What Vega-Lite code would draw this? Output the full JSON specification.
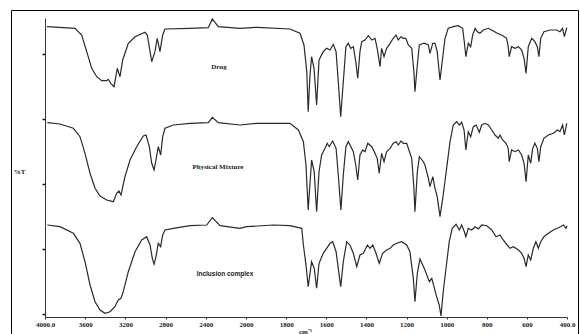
{
  "$schema": "https://vega.github.io/schema/vega-lite/v6.json",
  "width": 567,
  "height": 324,
  "autosize": {"type": "none"},
  "padding": {"left": 11, "top": 10, "right": 2, "bottom": 0},
  "background": "white",
  "config": {
    "view": {"stroke": "black", "strokeWidth": 1, "strokeDash": [891, 567, 324, 0]},
    "axis": {"grid": false, "domainColor": "#333", "tickColor": "#333", "labelFont": "Liberation Serif", "labelFontWeight": "bold", "labelFontSize": 7, "labelColor": "#222", "titleFont": "Liberation Serif", "titleFontWeight": "bold", "titleFontSize": 7, "titleColor": "#222"}
  },
  "layer": [
    {
      "data": {"values": [
        {"s":"Drug","w":3980,"t":290.3},{"s":"Drug","w":3701,"t":288.7},{"s":"Drug","w":3635,"t":282},{"s":"Drug","w":3585,"t":265.3},{"s":"Drug","w":3535,"t":248.7},{"s":"Drug","w":3486,"t":240.3},{"s":"Drug","w":3436,"t":236.3},{"s":"Drug","w":3386,"t":236.3},{"s":"Drug","w":3370,"t":237.7},{"s":"Drug","w":3346,"t":233.7},{"s":"Drug","w":3313,"t":230.3},{"s":"Drug","w":3281,"t":248.7},{"s":"Drug","w":3254,"t":240.3},{"s":"Drug","w":3227,"t":257},{"s":"Drug","w":3171,"t":273.7},{"s":"Drug","w":3104,"t":280.3},{"s":"Drug","w":3005,"t":284.7},{"s":"Drug","w":2982,"t":282},{"s":"Drug","w":2938,"t":255.3},{"s":"Drug","w":2906,"t":265.3},{"s":"Drug","w":2883,"t":278.7},{"s":"Drug","w":2856,"t":265.3},{"s":"Drug","w":2829,"t":282},{"s":"Drug","w":2806,"t":288},{"s":"Drug","w":2557,"t":288.7},{"s":"Drug","w":2375,"t":289.3},{"s":"Drug","w":2335,"t":298},{"s":"Drug","w":2276,"t":290.3},{"s":"Drug","w":2060,"t":288.7},{"s":"Drug","w":1947,"t":289.7},{"s":"Drug","w":1781,"t":288},{"s":"Drug","w":1731,"t":283.7},{"s":"Drug","w":1711,"t":272},{"s":"Drug","w":1697,"t":245.3},{"s":"Drug","w":1690,"t":205.3},{"s":"Drug","w":1681,"t":242},{"s":"Drug","w":1673,"t":260.3},{"s":"Drug","w":1661,"t":248.7},{"s":"Drug","w":1648,"t":212},{"s":"Drug","w":1636,"t":257},{"s":"Drug","w":1615,"t":265.3},{"s":"Drug","w":1598,"t":268.7},{"s":"Drug","w":1581,"t":267},{"s":"Drug","w":1565,"t":272.7},{"s":"Drug","w":1551,"t":265.3},{"s":"Drug","w":1540,"t":235.3},{"s":"Drug","w":1528,"t":200.3},{"s":"Drug","w":1515,"t":235.3},{"s":"Drug","w":1502,"t":270.3},{"s":"Drug","w":1490,"t":273.7},{"s":"Drug","w":1478,"t":268.7},{"s":"Drug","w":1465,"t":270.3},{"s":"Drug","w":1453,"t":255.3},{"s":"Drug","w":1443,"t":238.7},{"s":"Drug","w":1432,"t":265.3},{"s":"Drug","w":1423,"t":275.3},{"s":"Drug","w":1407,"t":277},{"s":"Drug","w":1390,"t":281.3},{"s":"Drug","w":1373,"t":277},{"s":"Drug","w":1357,"t":278.7},{"s":"Drug","w":1346,"t":268.7},{"s":"Drug","w":1332,"t":250.3},{"s":"Drug","w":1324,"t":268.7},{"s":"Drug","w":1312,"t":260.3},{"s":"Drug","w":1299,"t":268.7},{"s":"Drug","w":1282,"t":273.7},{"s":"Drug","w":1266,"t":278.7},{"s":"Drug","w":1252,"t":282},{"s":"Drug","w":1241,"t":277},{"s":"Drug","w":1227,"t":280.3},{"s":"Drug","w":1216,"t":278.7},{"s":"Drug","w":1203,"t":278.7},{"s":"Drug","w":1191,"t":272},{"s":"Drug","w":1174,"t":268.7},{"s":"Drug","w":1163,"t":245.3},{"s":"Drug","w":1158,"t":225.3},{"s":"Drug","w":1146,"t":252},{"s":"Drug","w":1136,"t":272},{"s":"Drug","w":1116,"t":273.7},{"s":"Drug","w":1108,"t":273.7},{"s":"Drug","w":1091,"t":272},{"s":"Drug","w":1083,"t":263.7},{"s":"Drug","w":1069,"t":273.7},{"s":"Drug","w":1058,"t":273.7},{"s":"Drug","w":1047,"t":265.3},{"s":"Drug","w":1033,"t":237},{"s":"Drug","w":1020,"t":258.7},{"s":"Drug","w":1008,"t":278.7},{"s":"Drug","w":992,"t":288.7},{"s":"Drug","w":967,"t":290.3},{"s":"Drug","w":942,"t":291.3},{"s":"Drug","w":920,"t":288.7},{"s":"Drug","w":912,"t":275.3},{"s":"Drug","w":904,"t":260.3},{"s":"Drug","w":892,"t":273.7},{"s":"Drug","w":880,"t":270.3},{"s":"Drug","w":870,"t":282},{"s":"Drug","w":858,"t":288.7},{"s":"Drug","w":847,"t":285.3},{"s":"Drug","w":834,"t":283.7},{"s":"Drug","w":817,"t":287},{"s":"Drug","w":792,"t":288.7},{"s":"Drug","w":767,"t":286},{"s":"Drug","w":748,"t":283.7},{"s":"Drug","w":726,"t":282},{"s":"Drug","w":701,"t":278.7},{"s":"Drug","w":693,"t":270.3},{"s":"Drug","w":688,"t":260.3},{"s":"Drug","w":676,"t":270.3},{"s":"Drug","w":659,"t":268.7},{"s":"Drug","w":642,"t":270.3},{"s":"Drug","w":626,"t":267},{"s":"Drug","w":614,"t":258.7},{"s":"Drug","w":604,"t":243.7},{"s":"Drug","w":593,"t":270.3},{"s":"Drug","w":576,"t":278.7},{"s":"Drug","w":560,"t":275.3},{"s":"Drug","w":548,"t":270.3},{"s":"Drug","w":540,"t":260.3},{"s":"Drug","w":531,"t":278.7},{"s":"Drug","w":515,"t":285.3},{"s":"Drug","w":485,"t":287},{"s":"Drug","w":452,"t":287},{"s":"Drug","w":435,"t":285.3},{"s":"Drug","w":422,"t":288.7},{"s":"Drug","w":413,"t":280.3},{"s":"Drug","w":401,"t":289.3},
        {"s":"PM","w":3977,"t":194.3},{"s":"PM","w":3851,"t":193},{"s":"PM","w":3718,"t":188.7},{"s":"PM","w":3652,"t":180.3},{"s":"PM","w":3602,"t":163.7},{"s":"PM","w":3552,"t":143.7},{"s":"PM","w":3502,"t":128.7},{"s":"PM","w":3453,"t":121},{"s":"PM","w":3386,"t":117},{"s":"PM","w":3320,"t":115.3},{"s":"PM","w":3287,"t":123.7},{"s":"PM","w":3264,"t":126},{"s":"PM","w":3244,"t":122},{"s":"PM","w":3204,"t":140.3},{"s":"PM","w":3154,"t":157},{"s":"PM","w":3088,"t":170.3},{"s":"PM","w":3022,"t":181},{"s":"PM","w":2995,"t":182},{"s":"PM","w":2962,"t":170.3},{"s":"PM","w":2938,"t":153.7},{"s":"PM","w":2915,"t":147},{"s":"PM","w":2896,"t":157},{"s":"PM","w":2873,"t":170.3},{"s":"PM","w":2849,"t":162},{"s":"PM","w":2829,"t":180.3},{"s":"PM","w":2806,"t":188.7},{"s":"PM","w":2723,"t":192},{"s":"PM","w":2557,"t":193.7},{"s":"PM","w":2375,"t":194.3},{"s":"PM","w":2335,"t":199.7},{"s":"PM","w":2276,"t":194.3},{"s":"PM","w":2060,"t":192},{"s":"PM","w":1947,"t":193.7},{"s":"PM","w":1781,"t":193.7},{"s":"PM","w":1739,"t":187},{"s":"PM","w":1714,"t":175.3},{"s":"PM","w":1701,"t":152},{"s":"PM","w":1690,"t":107},{"s":"PM","w":1673,"t":157},{"s":"PM","w":1660,"t":145.3},{"s":"PM","w":1648,"t":105.3},{"s":"PM","w":1636,"t":145.3},{"s":"PM","w":1623,"t":162},{"s":"PM","w":1606,"t":168.7},{"s":"PM","w":1595,"t":173.7},{"s":"PM","w":1585,"t":170.3},{"s":"PM","w":1568,"t":176},{"s":"PM","w":1551,"t":168.7},{"s":"PM","w":1540,"t":142},{"s":"PM","w":1527,"t":107},{"s":"PM","w":1515,"t":142},{"s":"PM","w":1502,"t":170.3},{"s":"PM","w":1490,"t":175.3},{"s":"PM","w":1477,"t":170.3},{"s":"PM","w":1465,"t":165.3},{"s":"PM","w":1453,"t":152},{"s":"PM","w":1443,"t":137},{"s":"PM","w":1432,"t":162},{"s":"PM","w":1418,"t":167},{"s":"PM","w":1407,"t":165.3},{"s":"PM","w":1393,"t":173.7},{"s":"PM","w":1373,"t":170.3},{"s":"PM","w":1357,"t":163.7},{"s":"PM","w":1346,"t":158.7},{"s":"PM","w":1336,"t":143.7},{"s":"PM","w":1324,"t":163.7},{"s":"PM","w":1312,"t":155.3},{"s":"PM","w":1299,"t":165.3},{"s":"PM","w":1282,"t":168.7},{"s":"PM","w":1266,"t":173.7},{"s":"PM","w":1252,"t":175.3},{"s":"PM","w":1241,"t":172},{"s":"PM","w":1227,"t":176},{"s":"PM","w":1216,"t":173.7},{"s":"PM","w":1199,"t":173.7},{"s":"PM","w":1188,"t":167},{"s":"PM","w":1174,"t":158.7},{"s":"PM","w":1163,"t":128.7},{"s":"PM","w":1158,"t":105.3},{"s":"PM","w":1146,"t":145.3},{"s":"PM","w":1136,"t":160.3},{"s":"PM","w":1116,"t":155.3},{"s":"PM","w":1108,"t":152},{"s":"PM","w":1091,"t":138.7},{"s":"PM","w":1083,"t":130.3},{"s":"PM","w":1069,"t":140.3},{"s":"PM","w":1058,"t":128.7},{"s":"PM","w":1047,"t":120.3},{"s":"PM","w":1033,"t":100.3},{"s":"PM","w":1017,"t":122},{"s":"PM","w":1000,"t":148.7},{"s":"PM","w":983,"t":175.3},{"s":"PM","w":967,"t":192},{"s":"PM","w":950,"t":195.3},{"s":"PM","w":937,"t":192},{"s":"PM","w":925,"t":194.7},{"s":"PM","w":913,"t":187},{"s":"PM","w":904,"t":167},{"s":"PM","w":892,"t":185.3},{"s":"PM","w":880,"t":180.3},{"s":"PM","w":867,"t":190.3},{"s":"PM","w":853,"t":192},{"s":"PM","w":837,"t":184.7},{"s":"PM","w":825,"t":192},{"s":"PM","w":809,"t":193.7},{"s":"PM","w":792,"t":192},{"s":"PM","w":775,"t":187},{"s":"PM","w":759,"t":182},{"s":"PM","w":742,"t":178.7},{"s":"PM","w":734,"t":182},{"s":"PM","w":721,"t":177},{"s":"PM","w":704,"t":173.7},{"s":"PM","w":693,"t":168.7},{"s":"PM","w":688,"t":155.3},{"s":"PM","w":676,"t":167},{"s":"PM","w":659,"t":165.3},{"s":"PM","w":642,"t":167},{"s":"PM","w":626,"t":162},{"s":"PM","w":614,"t":153.7},{"s":"PM","w":604,"t":135.3},{"s":"PM","w":593,"t":162},{"s":"PM","w":581,"t":153.7},{"s":"PM","w":571,"t":168.7},{"s":"PM","w":560,"t":173.7},{"s":"PM","w":548,"t":168.7},{"s":"PM","w":540,"t":155.3},{"s":"PM","w":531,"t":170.3},{"s":"PM","w":515,"t":178.7},{"s":"PM","w":493,"t":182},{"s":"PM","w":468,"t":183.7},{"s":"PM","w":448,"t":187},{"s":"PM","w":435,"t":185.3},{"s":"PM","w":422,"t":192},{"s":"PM","w":413,"t":182},{"s":"PM","w":401,"t":193.7},
        {"s":"IC","w":3977,"t":92},{"s":"IC","w":3851,"t":90.3},{"s":"IC","w":3718,"t":83.7},{"s":"IC","w":3652,"t":73.7},{"s":"IC","w":3602,"t":55.3},{"s":"IC","w":3552,"t":32},{"s":"IC","w":3502,"t":15.3},{"s":"IC","w":3453,"t":7},{"s":"IC","w":3403,"t":3.7},{"s":"IC","w":3353,"t":5.3},{"s":"IC","w":3304,"t":10.3},{"s":"IC","w":3271,"t":17},{"s":"IC","w":3244,"t":18.7},{"s":"IC","w":3221,"t":25.3},{"s":"IC","w":3171,"t":45.3},{"s":"IC","w":3104,"t":65.3},{"s":"IC","w":3038,"t":77},{"s":"IC","w":2988,"t":80.3},{"s":"IC","w":2955,"t":72},{"s":"IC","w":2932,"t":58.7},{"s":"IC","w":2915,"t":52.7},{"s":"IC","w":2896,"t":60.3},{"s":"IC","w":2873,"t":73.7},{"s":"IC","w":2849,"t":70.3},{"s":"IC","w":2829,"t":82},{"s":"IC","w":2806,"t":87},{"s":"IC","w":2723,"t":88.7},{"s":"IC","w":2557,"t":91.3},{"s":"IC","w":2391,"t":92},{"s":"IC","w":2335,"t":99.3},{"s":"IC","w":2259,"t":91.3},{"s":"IC","w":2060,"t":88.7},{"s":"IC","w":1997,"t":90.3},{"s":"IC","w":1864,"t":92},{"s":"IC","w":1781,"t":91.3},{"s":"IC","w":1722,"t":88.7},{"s":"IC","w":1714,"t":72},{"s":"IC","w":1701,"t":52},{"s":"IC","w":1690,"t":30.3},{"s":"IC","w":1673,"t":55.3},{"s":"IC","w":1660,"t":48.7},{"s":"IC","w":1648,"t":28.7},{"s":"IC","w":1636,"t":53.7},{"s":"IC","w":1615,"t":63.7},{"s":"IC","w":1598,"t":68.7},{"s":"IC","w":1581,"t":73.7},{"s":"IC","w":1568,"t":75.3},{"s":"IC","w":1551,"t":65.3},{"s":"IC","w":1540,"t":48.7},{"s":"IC","w":1528,"t":30.3},{"s":"IC","w":1515,"t":55.3},{"s":"IC","w":1498,"t":75.3},{"s":"IC","w":1482,"t":72},{"s":"IC","w":1465,"t":63.7},{"s":"IC","w":1448,"t":50.3},{"s":"IC","w":1432,"t":62},{"s":"IC","w":1415,"t":63.7},{"s":"IC","w":1395,"t":72},{"s":"IC","w":1382,"t":68.7},{"s":"IC","w":1368,"t":72},{"s":"IC","w":1352,"t":63.7},{"s":"IC","w":1336,"t":53.7},{"s":"IC","w":1319,"t":63.7},{"s":"IC","w":1299,"t":67},{"s":"IC","w":1282,"t":68.7},{"s":"IC","w":1266,"t":72},{"s":"IC","w":1249,"t":73.7},{"s":"IC","w":1224,"t":75.3},{"s":"IC","w":1199,"t":72},{"s":"IC","w":1183,"t":65.3},{"s":"IC","w":1166,"t":38.7},{"s":"IC","w":1158,"t":15.3},{"s":"IC","w":1146,"t":43.7},{"s":"IC","w":1133,"t":58},{"s":"IC","w":1108,"t":47},{"s":"IC","w":1086,"t":35.3},{"s":"IC","w":1074,"t":38.7},{"s":"IC","w":1063,"t":30.3},{"s":"IC","w":1050,"t":20.3},{"s":"IC","w":1037,"t":12},{"s":"IC","w":1028,"t":1},{"s":"IC","w":1017,"t":25.3},{"s":"IC","w":1003,"t":48.7},{"s":"IC","w":987,"t":75.3},{"s":"IC","w":972,"t":88.7},{"s":"IC","w":953,"t":92.7},{"s":"IC","w":937,"t":87},{"s":"IC","w":925,"t":92},{"s":"IC","w":913,"t":86},{"s":"IC","w":904,"t":80.3},{"s":"IC","w":892,"t":88.7},{"s":"IC","w":875,"t":87},{"s":"IC","w":858,"t":90.3},{"s":"IC","w":842,"t":88},{"s":"IC","w":825,"t":92},{"s":"IC","w":800,"t":91.3},{"s":"IC","w":775,"t":87},{"s":"IC","w":754,"t":80.3},{"s":"IC","w":734,"t":82},{"s":"IC","w":718,"t":77},{"s":"IC","w":698,"t":72},{"s":"IC","w":684,"t":68.7},{"s":"IC","w":667,"t":70.3},{"s":"IC","w":642,"t":67},{"s":"IC","w":626,"t":63.7},{"s":"IC","w":614,"t":58.7},{"s":"IC","w":604,"t":50.3},{"s":"IC","w":593,"t":62},{"s":"IC","w":581,"t":57},{"s":"IC","w":568,"t":68.7},{"s":"IC","w":555,"t":75.3},{"s":"IC","w":543,"t":68.7},{"s":"IC","w":531,"t":75.3},{"s":"IC","w":515,"t":80.3},{"s":"IC","w":493,"t":83.7},{"s":"IC","w":468,"t":87},{"s":"IC","w":448,"t":88.7},{"s":"IC","w":432,"t":90.3},{"s":"IC","w":418,"t":92},{"s":"IC","w":405,"t":88.7},{"s":"IC","w":400,"t":91.3}
      ]},
      "mark": {"type": "line", "color": "#2a2a2a", "strokeWidth": 1.2},
      "encoding": {
        "x": {"field": "w", "type": "quantitative",
          "scale": {"domain": [4000, 2000, 400], "range": [34, 235, 556], "zero": false, "nice": false},
          "axis": {"orient": "bottom", "offset": -17, "values": [4000, 3600, 3200, 2800, 2400, 2000, 1800, 1600, 1400, 1200, 1000, 800, 600, 400], "format": "d",
            "labelExpr": "datum.value == 4000 ? '4000.0' : (datum.value == 400 ? '400.0' : datum.label)",
            "tickSize": 2, "labelPadding": 1, "labelOverlap": false, "labelFlush": false, "labelBound": false,
            "title": "cm⁻¹", "titleX": 294, "titleY": 14, "titleAnchor": null, "titleAlign": "center", "titleBaseline": "middle"}},
        "y": {"field": "t", "type": "quantitative",
          "scale": {"domain": [0, 299], "range": [307, 8], "zero": false, "nice": false},
          "axis": {"orient": "left", "offset": -34, "labels": false, "tickSize": 3, "tickWidth": 1.5, "tickColor": "#111", "labelOverlap": false,
            "values": [299, 279, 263, 246, 230, 214, 198, 182, 165, 149, 133, 117, 101, 84, 68, 52, 36, 20, 3],
            "title": "%T", "titleAngle": 0, "titleX": -26, "titleY": 161, "titleAlign": "center", "titleBaseline": "middle"}},
        "detail": {"field": "s"}
      }
    },
    {
      "data": {"values": [
        {"label": "Drug", "w": 2269, "t": 250},
        {"label": "Physical Mixture", "w": 2279, "t": 150}
      ]},
      "mark": {"type": "text", "font": "Liberation Serif", "fontWeight": "bold", "fontSize": 7, "color": "#222", "align": "center", "baseline": "middle"},
      "encoding": {
        "x": {"field": "w", "type": "quantitative"},
        "y": {"field": "t", "type": "quantitative"},
        "text": {"field": "label"}
      }
    },
    {
      "data": {"values": [
        {"label": "Inclusion complex", "w": 2209, "t": 43}
      ]},
      "mark": {"type": "text", "font": "Liberation Sans", "fontWeight": "bold", "fontSize": 6.5, "color": "#222", "align": "center", "baseline": "middle"},
      "encoding": {
        "x": {"field": "w", "type": "quantitative"},
        "y": {"field": "t", "type": "quantitative"},
        "text": {"field": "label"}
      }
    }
  ]
}
